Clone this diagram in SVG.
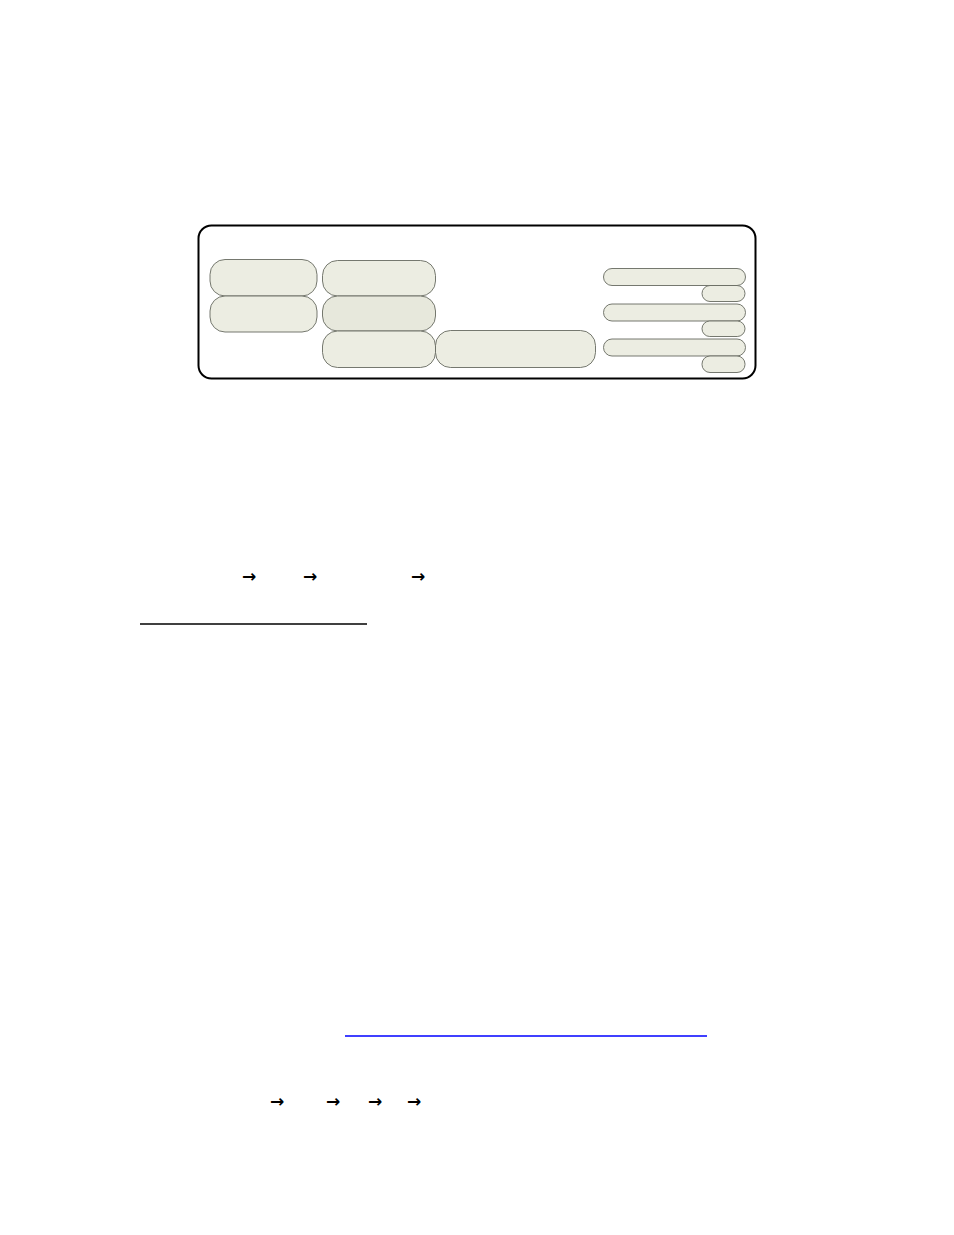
<svg xmlns="http://www.w3.org/2000/svg" width="954" height="1235" viewBox="0 0 954 1235">
<defs>
<style>
.frame{fill:#ffffff;stroke:#000000;stroke-width:2}
.node{fill:#ecede2;stroke:#666a60;stroke-width:0.9}
.node2{fill:#e7e8dc;stroke:#666a60;stroke-width:0.9}
.arr{font-family:"DejaVu Sans",sans-serif;font-size:17px;font-weight:bold;fill:#000000}
</style>
</defs>
<rect width="954" height="1235" fill="#ffffff"/>
<g id="frame"><rect class="frame" x="198.5" y="225.5" width="557" height="153" rx="13" ry="13"/></g>
<g id="nodes">
<g id="a1"><rect class="node" x="210" y="259.5" width="107" height="36.5" rx="15" ry="15"/></g>
<g id="a2"><rect class="node" x="210" y="296" width="107" height="36" rx="15" ry="15"/></g>
<g id="b1"><rect class="node" x="322.5" y="260.5" width="113" height="35.5" rx="15" ry="15"/></g>
<g id="b2"><rect class="node2" x="322.5" y="296" width="113" height="35" rx="15" ry="15"/></g>
<g id="b3"><rect class="node" x="322.5" y="331" width="113" height="36.5" rx="15" ry="15"/></g>
<g id="c"><rect class="node" x="435.5" y="330.5" width="160" height="37" rx="15" ry="15"/></g>
<g id="r1"><rect class="node" x="603.5" y="268.5" width="142" height="17" rx="8.5" ry="8.5"/></g>
<g id="s1"><rect class="node" x="702" y="285.5" width="43" height="16" rx="8" ry="8"/></g>
<g id="r2"><rect class="node" x="603.5" y="304" width="142" height="17" rx="8.5" ry="8.5"/></g>
<g id="s2"><rect class="node" x="702" y="321" width="43" height="15.5" rx="7.75" ry="7.75"/></g>
<g id="r3"><rect class="node" x="603.5" y="339" width="142" height="17" rx="8.5" ry="8.5"/></g>
<g id="s3"><rect class="node" x="702" y="356" width="43" height="16.5" rx="8" ry="8"/></g>
</g>
<g id="connectors">
<line x1="140" y1="624" x2="367" y2="624" stroke="#000000" stroke-width="1.5"/>
<line x1="345" y1="1036" x2="707" y2="1036" stroke="#0000ff" stroke-width="1.5"/>
</g>
<g id="arrows">
<text class="arr" x="242" y="582">→</text>
<text class="arr" x="303" y="582">→</text>
<text class="arr" x="411" y="582">→</text>
<text class="arr" x="270" y="1107">→</text>
<text class="arr" x="326" y="1107">→</text>
<text class="arr" x="368" y="1107">→</text>
<text class="arr" x="407" y="1107">→</text>
</g>
</svg>
